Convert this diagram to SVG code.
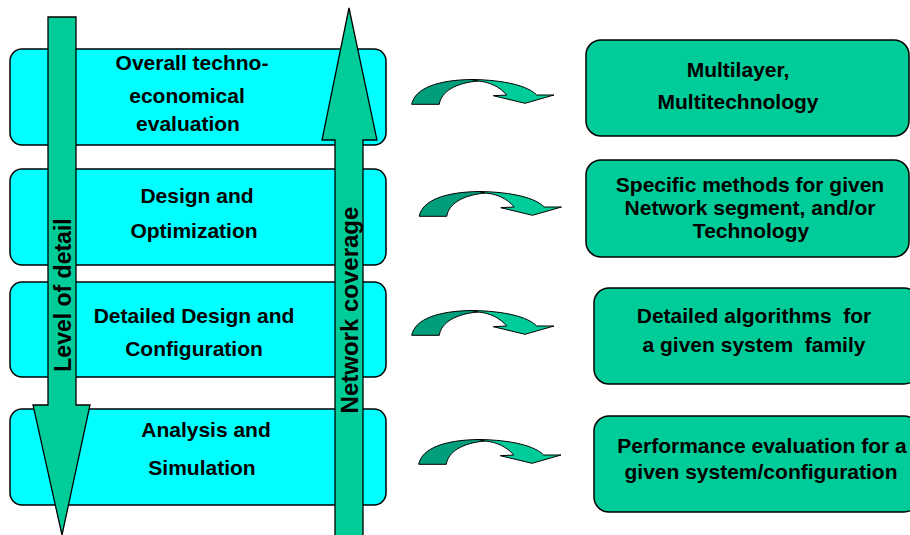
<svg xmlns="http://www.w3.org/2000/svg" width="910" height="535" viewBox="0 0 910 535">
<defs>
<style>
.lbox{fill:#00FFFF;stroke:#000;stroke-width:1.5}
.rbox{fill:#00CC99;stroke:#000;stroke-width:1.5}
.arr{fill:#00CC99;stroke:#000;stroke-width:1.3;stroke-linejoin:miter}
.dark{fill:#009E7A;stroke:#000;stroke-width:1}
.light{fill:#00CC99;stroke:#000;stroke-width:1}
text{font-family:"Liberation Sans",Arial,sans-serif;font-weight:bold;font-size:21px;fill:#000;text-anchor:middle;white-space:pre}
.vt{font-size:23px}
</style>
<g id="curved">
<path class="dark" d="M411.7,104.3 C415,88 438,80 472,79.5 L478,81 C455,83 441,92 439.3,104.3 Z"/>
<path class="light" d="M472,79.5 C505,80 528,86 536.7,95 L554,95 L525,103.3 L493.3,95.7 L506.7,95 C500,87 490,82 478,81 Z"/>
</g>
</defs>
<g id="box-overall"><rect class="lbox" x="10" y="49" width="376" height="96" rx="12"/>
<text x="192" y="70">Overall techno-</text><text x="187" y="103">economical</text><text x="188" y="131">evaluation</text></g>
<g id="box-design"><rect class="lbox" x="10" y="169" width="376" height="96" rx="12"/>
<text x="197" y="203">Design and</text><text x="194" y="238">Optimization</text></g>
<g id="box-detailed"><rect class="lbox" x="10" y="282" width="376" height="95" rx="12"/>
<text x="194" y="323">Detailed Design and</text><text x="194" y="356">Configuration</text></g>
<g id="box-analysis"><rect class="lbox" x="10" y="409" width="376" height="96" rx="12"/>
<text x="206" y="437">Analysis and</text><text x="202" y="475">Simulation</text></g>
<g id="arrow-level"><polygon class="arr" points="48,17 76,17 76,405 90,405 62,535 33,405 48,405"/>
<text class="vt" transform="translate(71,295) rotate(-90)" x="0" y="0">Level of detail</text></g>
<g id="arrow-network"><polygon class="arr" points="349,8 377,140 363,140 363,545 335,545 335,140 322,140"/>
<text class="vt" style="font-size:24px" transform="translate(358,310) rotate(-90)" x="0" y="0">Network coverage</text></g>
<g id="box-multilayer"><rect class="rbox" x="586" y="40" width="323" height="96" rx="15"/>
<text x="738" y="77">Multilayer,</text><text x="738" y="109">Multitechnology</text></g>
<g id="box-specific"><rect class="rbox" x="586" y="160" width="323" height="97" rx="15"/>
<text x="750" y="192">Specific methods for given</text><text x="750" y="215">Network segment, and/or</text><text x="751" y="238">Technology</text></g>
<g id="box-algorithms"><rect class="rbox" x="594" y="288" width="325" height="96" rx="15"/>
<text x="754" y="323">Detailed algorithms  for</text><text x="754" y="352">a given system  family</text></g>
<g id="box-performance"><rect class="rbox" x="594" y="416" width="325" height="96" rx="15"/>
<text x="762" y="453">Performance evaluation for a</text><text x="761" y="479">given system/configuration</text></g>
<g id="connectors">
<use href="#curved"/>
<use href="#curved" transform="translate(7.5,112)"/>
<use href="#curved" transform="translate(0,231)"/>
<use href="#curved" transform="translate(7,360)"/>
</g>
</svg>
